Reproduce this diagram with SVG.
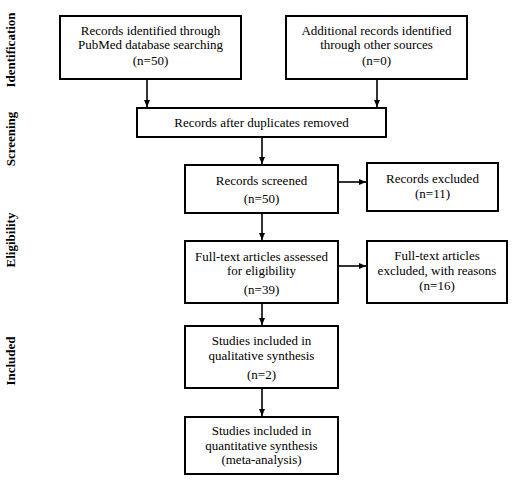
<svg xmlns="http://www.w3.org/2000/svg" width="514" height="483" viewBox="0 0 514 483">
<defs>
<marker id="ah" markerWidth="8" markerHeight="8" refX="7" refY="4" orient="auto" markerUnits="userSpaceOnUse">
<path d="M0,1 L7,4 L0,7 Z" fill="#000"/>
</marker>
<style>
.box{fill:#fff;stroke:#000;stroke-width:2}
.t{font-family:"Liberation Serif","Times New Roman",serif;font-size:13px;fill:#000;text-anchor:middle}
.side{font-family:"Liberation Serif","Times New Roman",serif;font-size:13px;font-weight:bold;fill:#000;text-anchor:middle}
.c{stroke:#000;stroke-width:1.6;fill:none;marker-end:url(#ah)}
</style>
</defs>
<rect width="514" height="483" fill="#fff"/>
<g id="stages">
<text class="side" transform="translate(15,50) rotate(-90)">Identification</text>
<text class="side" transform="translate(15,139) rotate(-90)">Screening</text>
<text class="side" transform="translate(15,240) rotate(-90)">Eligibility</text>
<text class="side" transform="translate(15,361) rotate(-90)">Included</text>
</g>
<g id="n1"><rect class="box" x="60" y="16" width="181" height="63"/>
<text class="t" x="150.5" y="35">Records identified through</text>
<text class="t" x="150.5" y="49">PubMed database searching</text>
<text class="t" x="150.5" y="65">(n=50)</text></g>
<g id="n2"><rect class="box" x="286" y="16" width="181" height="63"/>
<text class="t" x="376.5" y="35">Additional records identified</text>
<text class="t" x="376.5" y="49">through other sources</text>
<text class="t" x="376.5" y="65">(n=0)</text></g>
<g id="n3"><rect class="box" x="137" y="108" width="249" height="29"/>
<text class="t" x="261.5" y="127">Records after duplicates removed</text></g>
<g id="n4"><rect class="box" x="185" y="165" width="153" height="48"/>
<text class="t" x="261.5" y="185">Records screened</text>
<text class="t" x="261.5" y="203">(n=50)</text></g>
<g id="n5"><rect class="box" x="367" y="163" width="131" height="48"/>
<text class="t" x="432.5" y="183">Records excluded</text>
<text class="t" x="432.5" y="198">(n=11)</text></g>
<g id="n6"><rect class="box" x="185" y="241" width="153" height="62"/>
<text class="t" x="261.5" y="261">Full-text articles assessed</text>
<text class="t" x="261.5" y="275">for eligibility</text>
<text class="t" x="261.5" y="294">(n=39)</text></g>
<g id="n7"><rect class="box" x="367" y="241" width="140" height="62"/>
<text class="t" x="437" y="260">Full-text articles</text>
<text class="t" x="437" y="275">excluded, with reasons</text>
<text class="t" x="437" y="290">(n=16)</text></g>
<g id="n8"><rect class="box" x="185" y="326" width="153" height="62"/>
<text class="t" x="261.5" y="345">Studies included in</text>
<text class="t" x="261.5" y="360">qualitative synthesis</text>
<text class="t" x="261.5" y="379">(n=2)</text></g>
<g id="n9"><rect class="box" x="185" y="417" width="153" height="57"/>
<text class="t" x="261.5" y="435">Studies included in</text>
<text class="t" x="261.5" y="450">quantitative synthesis</text>
<text class="t" x="261.5" y="464">(meta-analysis)</text></g>
<g id="connectors">
<line class="c" x1="147" y1="80" x2="147" y2="107"/>
<line class="c" x1="377" y1="80" x2="377" y2="107"/>
<line class="c" x1="262" y1="138" x2="262" y2="164"/>
<line class="c" x1="339" y1="182" x2="366" y2="182"/>
<line class="c" x1="262" y1="214" x2="262" y2="240"/>
<line class="c" x1="339" y1="266" x2="366" y2="266"/>
<line class="c" x1="262" y1="304" x2="262" y2="325"/>
<line class="c" x1="262" y1="389" x2="262" y2="416"/>
</g>
</svg>
